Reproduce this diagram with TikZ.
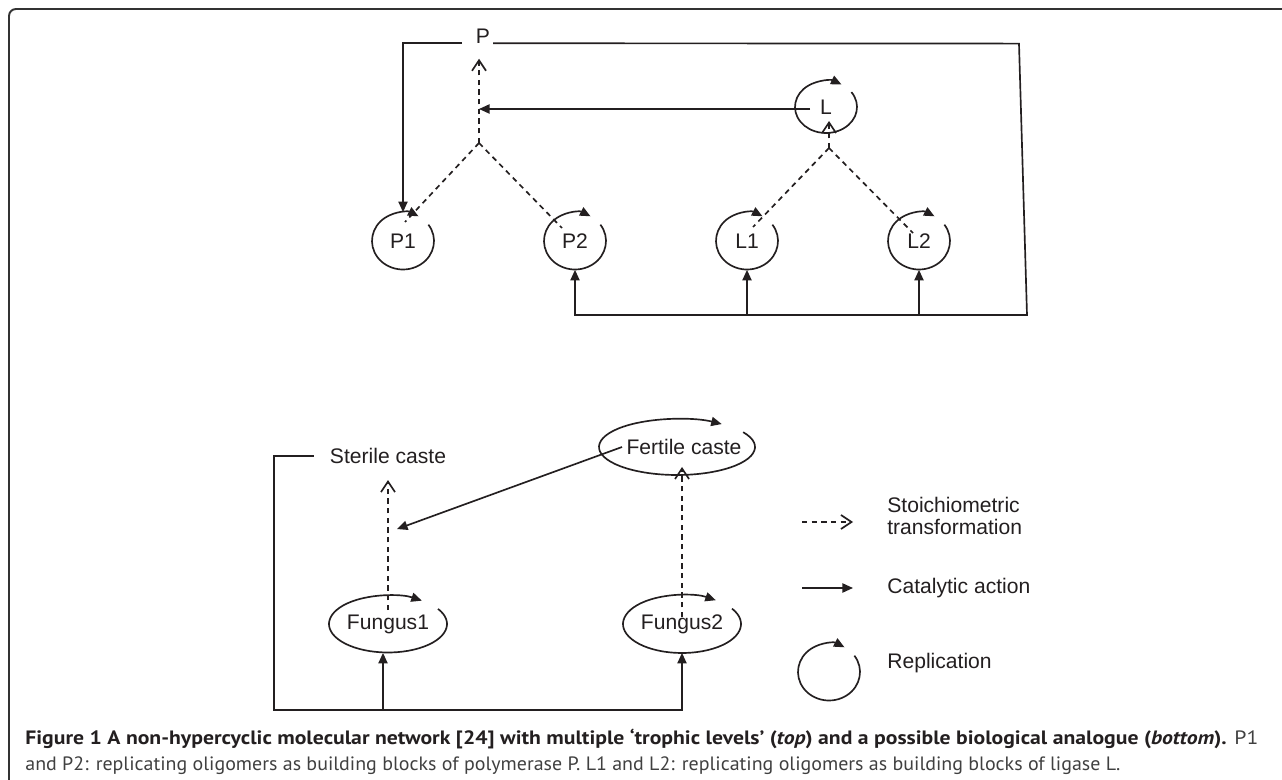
\documentclass[tikz,border=0pt]{standalone}
\usepackage{graphicx}
\usepackage{fontspec}
\setmainfont{Liberation Sans}
\newfontfamily\capfont{PT Sans}
\usetikzlibrary{arrows.meta,shapes.geometric}
\newlength\pxl \setlength\pxl{0.02cm}
\definecolor{ink}{HTML}{231F20}
\newcommand\replarc[3]{\draw[reparrow] ([shift={(35:#2 and #3)}]#1.center) arc[start angle=35,end angle=-300,x radius=#2,y radius=#3];}
\newcommand\replarcE[3]{\draw[reparrow] ([shift={(32:#2 and #3)}]#1.center) arc[start angle=32,end angle=-305,x radius=#2,y radius=#3];}
\begin{document}
\begin{tikzpicture}[x=0.02cm,y=0.02cm,
  every node/.style={font=\fontsize{12}{12.8}\selectfont, text=ink},
  ln/.style={draw=ink, line width=0.95pt},
  cat/.style={ln, -{Triangle[length=6pt,width=5.2pt]}},
  stoich/.style={ln, dash pattern=on 3pt off 2.5pt, -{Straight Barb[length=6pt,width=8pt]}},
  stoichline/.style={ln, dash pattern=on 3pt off 2.5pt},
  reparrow/.style={ln, -{Triangle[length=6pt,width=5.2pt]}},
  mol/.style={ellipse, inner sep=0, minimum width=62\pxl, minimum height=57\pxl},
  org/.style={ellipse, inner sep=0, minimum width=118\pxl, minimum height=57\pxl},
  txt/.style={inner sep=0},
]
\useasboundingbox (0,0) rectangle (1282,-780);
% outer frame
\draw[draw=black!80, line width=1.1pt, rounded corners=7\pxl] (9,-790) -- (9,-9) -- (1295,-9);

% ---------- top network ----------
\node[txt] (P) at (483,-36) {P};
\node[mol] (P1) at (403,-241) {P1};
\node[mol] (P2) at (575,-241) {P2};
\node[mol] (L1) at (747,-241) {L1};
\node[mol] (L2) at (919,-241) {L2};
\node[mol, minimum height=52\pxl] (L) at (826,-107) {L};
\coordinate (jP) at (479,-143);
\coordinate (jL) at (829,-148);
\coordinate (tr) at (1019,-43.6);
\coordinate (br) at (1027,-315);
\coordinate (Lout) at ([shift={(-16,-2)}]L.center);

\replarc{P1}{31}{28.5}
\replarc{P2}{31}{28.5}
\replarc{L1}{31}{28.5}
\replarc{L2}{31}{28.5}
\replarc{L}{31}{26}

\draw[cat] ([xshift=-21\pxl]P.base) -| (P1);
\draw[cat] ([xshift=10\pxl]P.base) -- (tr) -- (br) -| (P2);
\draw[cat] (L1 |- br) -- (L1);
\draw[cat] (L2 |- br) -- (L2);

\draw[stoich] (jP) -- ([shift={(-4,-15.5)}]P.base);
\draw[stoichline] (jP) -- ([shift={(2,19)}]P1.center);
\draw[stoichline] (jP) -- ([shift={(-13,13)}]P2.center);
\draw[cat] (Lout) -- (jP |- Lout);

\draw[stoich] (jL) -- ([shift={(3,-14)}]L.center);
\draw[stoichline] (jL) -- ([shift={(6,14)}]L1.center);
\draw[stoichline] (jL) -- ([shift={(-6,8)}]L2.center);

% ---------- bottom analogue ----------
\node[txt] (S) at (388,-456) {Sterile caste};
\node[txt] (F) at (684,-447) {Fertile caste};
\coordinate (Fc) at ([xshift=-7\pxl]F.center);
\node[org] (F1) at (388,-624) {Fungus1};
\node[org] (F2) at (682,-624) {Fungus2};
\coordinate (bl) at (274,-710);

\replarcE{Fc}{78}{28}
\replarcE{F1}{59}{28.5}
\replarcE{F2}{59}{29}

\draw[cat] ([xshift=-16\pxl]S.west) -| (bl) -| (F2);
\draw[cat] ([xshift=-5\pxl]F1.south |- bl) -- ([xshift=-5\pxl]F1.south);
\draw[stoich] ([yshift=14\pxl]F1.center) -- coordinate[pos=0.623] (sm) ([yshift=-16\pxl]S.south);
\draw[cat] ([xshift=-62\pxl]F.center) -- ([xshift=9\pxl]sm);
\draw[stoich] ([yshift=7\pxl]F2.center) -- ([shift={(-2,-20)}]F.center);

% ---------- legend ----------
\node[txt, anchor=west, align=left] (Ls) at (887,-516) {Stoichiometric\\transformation};
\node[txt, anchor=west] (Lc) at (887,-588) {Catalytic action};
\node[txt, anchor=west] (Lr) at (887,-663) {Replication};
\node[mol] (Rc) at (829,-672) {};
\draw[stoich] ([shift={(-85,-6)}]Ls.west) -- ([shift={(-34,-6)}]Ls.west);
\draw[cat] ([xshift=-85\pxl]Lc.west) -- ([xshift=-34\pxl]Lc.west);
\replarc{Rc}{31}{28.5}

% ---------- caption ----------
\node[anchor=base west, inner sep=0] (cap1) at (25,-744)
  {\resizebox{1233\pxl}{\height}{\capfont\fontsize{11}{13}\selectfont\color{ink}\textbf{Figure 1 A non-hypercyclic molecular network [24] with multiple ‘trophic levels’ (\textit{top}) and a possible biological analogue (\textit{bottom}).} \color{black!75}P1}};
\node[anchor=base west, inner sep=0] (cap2) at (25,-770)
  {\resizebox{1095\pxl}{\height}{\capfont\fontsize{11}{13}\selectfont\color{black!75}and P2: replicating oligomers as building blocks of polymerase P. L1 and L2: replicating oligomers as building blocks of ligase L.}};
\end{tikzpicture}
\end{document}
